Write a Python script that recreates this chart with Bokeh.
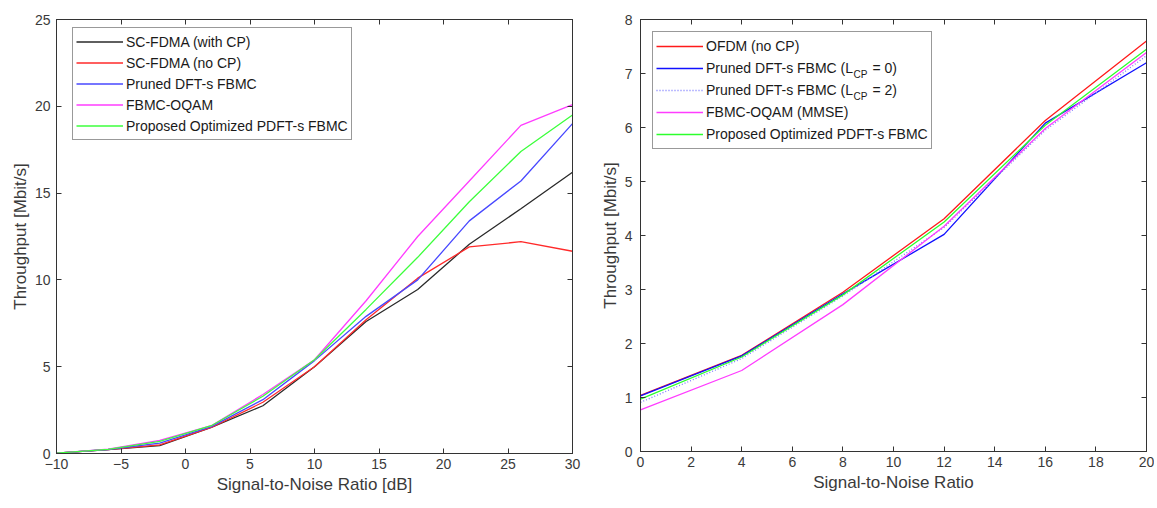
from bokeh.plotting import figure
from bokeh.layouts import row
from bokeh.models import Legend, LegendItem, LinearAxis, FixedTicker, Range1d, Label
from bokeh.embed import file_html
from bokeh.resources import INLINE

# ---------------- data: left panel ----------------
snr_db = [-10, -6, -2, 2, 6, 10, 14, 18, 22, 26, 30]
scfdma_cp = [0.02, 0.22, 0.45, 1.50, 2.75, 5.00, 7.60, 9.45, 12.05, 14.10, 16.20]
scfdma_nocp = [0.02, 0.22, 0.50, 1.50, 2.95, 5.00, 7.70, 10.10, 11.90, 12.20, 11.65]
pruned_dft = [0.02, 0.23, 0.60, 1.55, 3.10, 5.35, 7.90, 10.00, 13.40, 15.70, 19.00]
fbmc_oqam = [0.02, 0.25, 0.75, 1.60, 3.40, 5.40, 8.80, 12.50, 15.70, 18.90, 20.10]
proposed_l = [0.02, 0.24, 0.70, 1.60, 3.30, 5.40, 8.30, 11.30, 14.50, 17.40, 19.50]
left_labels = ["SC-FDMA (with CP)", "SC-FDMA (no CP)", "Pruned DFT-s FBMC",
               "FBMC-OQAM", "Proposed Optimized PDFT-s FBMC"]
left_xticks = [-10, -5, 0, 5, 10, 15, 20, 25, 30]
left_yticks = [0, 5, 10, 15, 20, 25]

# ---------------- data: right panel ----------------
snr = [0, 4, 8, 12, 16, 20]
ofdm_nocp = [1.04, 1.78, 2.95, 4.31, 6.13, 7.60]
pruned_l0 = [1.03, 1.77, 2.92, 4.02, 6.08, 7.20]
pruned_l2 = [0.91, 1.72, 2.88, 4.15, 5.95, 7.33]
fbmc_mmse = [0.77, 1.50, 2.72, 4.17, 5.98, 7.39]
proposed_r = [0.97, 1.75, 2.90, 4.25, 6.04, 7.45]
right_labels = ["OFDM (no CP)", "Pruned DFT-s FBMC (L", "Pruned DFT-s FBMC (L",
                "FBMC-OQAM (MMSE)", "Proposed Optimized PDFT-s FBMC"]
right_label_tails = ["", "= 0)", "= 2)", "", ""]
right_xticks = [0, 2, 4, 6, 8, 10, 12, 14, 16, 18, 20]
right_yticks = [0, 1, 2, 3, 4, 5, 6, 7, 8]

FONT = "Liberation Sans"
TXT = "#3a3a3a"
AX = "#333333"


def style(p, xt, yt, xlabel, ylabel, ylab_standoff):
    p.xgrid.visible = False
    p.ygrid.visible = False
    p.outline_line_color = AX
    p.outline_line_width = 1
    p.xaxis[0].ticker = FixedTicker(ticks=xt)
    p.yaxis[0].ticker = FixedTicker(ticks=yt)
    for ax in (p.xaxis[0], p.yaxis[0]):
        ax.major_tick_in = 5
        ax.major_tick_out = 0
        ax.minor_tick_line_color = None
        ax.axis_line_color = AX
        ax.major_tick_line_color = AX
        ax.major_label_text_font = FONT
        ax.major_label_text_font_size = "14px"
        ax.major_label_text_color = TXT
        ax.axis_label_text_font = FONT
        ax.axis_label_text_font_size = "17px"
        ax.axis_label_text_font_style = "normal"
        ax.axis_label_text_color = TXT
    p.xaxis[0].axis_label = xlabel
    p.yaxis[0].axis_label = ylabel
    p.xaxis[0].major_label_standoff = 5
    p.xaxis[0].axis_label_standoff = 3
    p.yaxis[0].major_label_standoff = ylab_standoff
    p.yaxis[0].axis_label_standoff = 2
    top = LinearAxis(ticker=FixedTicker(ticks=xt))
    right = LinearAxis(ticker=FixedTicker(ticks=yt))
    for ax in (top, right):
        ax.major_tick_in = 5
        ax.major_tick_out = 0
        ax.minor_tick_line_color = None
        ax.axis_line_color = AX
        ax.major_tick_line_color = AX
        ax.major_label_text_font_size = "1px"
        ax.major_label_text_color = None
        ax.major_label_standoff = 0
    p.add_layout(top, "above")
    p.add_layout(right, "right")


# ---------------- left figure ----------------
p1 = figure(frame_width=516, frame_height=434, min_border_left=56, min_border_right=23,
            min_border_top=17, min_border_bottom=52,
            x_range=Range1d(-10, 30), y_range=Range1d(0, 25),
            output_backend="svg", toolbar_location=None)
style(p1, left_xticks, left_yticks, "Signal-to-Noise Ratio [dB]", "Throughput [Mbit/s]", 6)

left_series = [scfdma_cp, scfdma_nocp, pruned_dft, fbmc_oqam, proposed_l]
left_colors = ["#2a2a2a", "#ff2a2a", "#4848ff", "#ff3cff", "#3cff3c"]
items = []
for ys, c, lab in zip(left_series, left_colors, left_labels):
    r = p1.line(snr_db, ys, line_color=c, line_width=1.3)
    items.append(LegendItem(label=lab, renderers=[r]))
leg1 = Legend(items=items, location=(16, 313), padding=3, spacing=0, margin=0,
              label_height=21, glyph_height=21, glyph_width=47, label_standoff=3,
              label_text_font=FONT, label_text_font_size="14px", label_text_color="#1a1a1a",
              border_line_color=AX, border_line_width=1, background_fill_alpha=1)
p1.add_layout(leg1)

# ---------------- right figure ----------------
FW, FH = 506, 432
p2 = figure(frame_width=FW, frame_height=FH, min_border_left=45, min_border_right=8,
            min_border_top=19, min_border_bottom=52,
            x_range=Range1d(0, 20), y_range=Range1d(0, 8),
            output_backend="svg", toolbar_location=None)
style(p2, right_xticks, right_yticks, "Signal-to-Noise Ratio", "Throughput [Mbit/s]", 8)

right_series = [ofdm_nocp, pruned_l0, pruned_l2, fbmc_mmse, proposed_r]
right_colors = ["#ff1a1a", "#1010ff", "#7a7aff", "#ff3cff", "#2cff2c"]
right_dash = ["solid", "solid", "1 2", "solid", "solid"]
items2 = []
gap = "\u00a0" * 5
for ys, c, d, lab, tail in zip(right_series, right_colors, right_dash, right_labels, right_label_tails):
    r = p2.line(snr, ys, line_color=c, line_width=1.3, line_dash=d)
    text = lab + (gap + tail if tail else "")
    items2.append(LegendItem(label=text, renderers=[r]))
# transparent background (the area under the legend is empty) so the subscripts show
leg2 = Legend(items=items2, location=(12, 302), padding=3, spacing=0, margin=0,
              label_height=22, glyph_height=22, glyph_width=47, label_standoff=3,
              label_text_font=FONT, label_text_font_size="14px", label_text_color="#1a1a1a",
              border_line_color=AX, border_line_width=1, background_fill_alpha=0)
p2.add_layout(leg2)

# subscripts "CP" for the two L_CP entries (positioned in frame pixels -> data units)
leg_top = 302 + 3 + 22 * 5 + 3
for i in (1, 2):
    cy = leg_top - 3 - 22 * i - 11 - 5
    cx = 12 + 3 + 47 + 3 + 148
    lbl = Label(x=cx * 20.0 / FW, y=cy * 8.0 / FH,
                text="CP", text_font=FONT, text_font_size="10px",
                text_color="#1a1a1a", text_baseline="middle", text_align="left")
    p2.add_layout(lbl)

layout = row(p1, p2)
open("out.html", "w").write(file_html(layout, INLINE))
